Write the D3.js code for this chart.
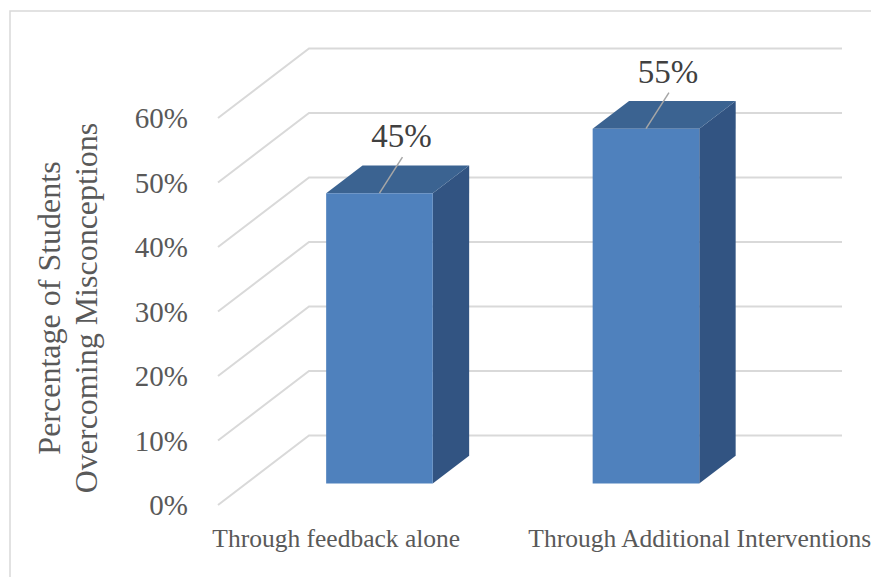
<!DOCTYPE html>
<html>
<head>
<meta charset="utf-8">
<script src="https://cdn.jsdelivr.net/npm/d3@7"></script>
<style>
  html, body { margin: 0; padding: 0; background: #ffffff; }
  svg { display: block; }
</style>
</head>
<body>
<script>
// Chart data
const categories = ["Through feedback alone", "Through Additional Interventions"];
const values = [0.45, 0.55];
const tickValues = [0, 0.1, 0.2, 0.3, 0.4, 0.5, 0.6];
const yTitleLines = ["Percentage of Students", "Overcoming Misconceptions"];

const W = 871, H = 577;
const svg = d3.select("body").append("svg").attr("width", W).attr("height", H);

// 3D layout: front floor edge and depth vector of the back wall
const floorFrontY = 505;
const wallX0 = 218, wallX1 = 751;
const DX = 91, DY = 69.5;
const backEndX = 842;

const y = d3.scaleLinear().domain([0, 0.6]).range([floorFrontY, floorFrontY - 387]);
const x = d3.scaleBand().domain(categories).range([wallX0, wallX1]).paddingInner(0).paddingOuter(0);

// Project a point (floor x, value, depth 0..1) to the screen
const proj = (px, v, d) => [px + d * DX, y(v) - d * DY];

// Outer frame
svg.append("rect")
  .attr("x", 10).attr("y", 11).attr("width", W + 20).attr("height", H + 20)
  .attr("fill", "none").attr("stroke", "#d9d9d9").attr("stroke-width", 1.5);

// Gridlines: side wall diagonal then back wall horizontal
const grid = svg.append("g").attr("fill", "none").attr("stroke", "#d9d9d9").attr("stroke-width", 2);
tickValues.forEach(v => {
  const a = proj(wallX0, v, 0), b = proj(wallX0, v, 1);
  grid.append("path").attr("d", `M${a[0]},${a[1]}L${b[0]},${b[1]}L${backEndX},${b[1]}`);
});

// Tick labels
const fmt = d3.format(".0%");
svg.append("g")
  .selectAll("text").data(tickValues).join("text")
  .attr("x", 188).attr("y", d => y(d) + 10)
  .attr("text-anchor", "end")
  .attr("font-family", "Liberation Serif, serif").attr("font-size", 29)
  .attr("fill", "#595959")
  .text(d => fmt(d));

// Axis title (rotated, two lines)
const titleG = svg.append("g").attr("transform", "translate(0,308) rotate(-90)");
titleG.selectAll("text").data(yTitleLines).join("text")
  .attr("x", 0).attr("y", (d, i) => 60 + i * 37)
  .attr("text-anchor", "middle")
  .attr("font-family", "Liberation Serif, serif").attr("font-size", 32)
  .attr("fill", "#595959")
  .text(d => d);

// Bars as boxes
const d0 = 0.31, d1 = 0.71;
const barFrac = 0.4;
const bars = svg.append("g");
categories.forEach((c, i) => {
  const v = values[i];
  const bw = x.bandwidth() * barFrac;
  const xl = x(c) + (x.bandwidth() - bw) / 2;
  const xr = xl + bw;
  const fBL = proj(xl, 0, d0), fBR = proj(xr, 0, d0), fTL = proj(xl, v, d0), fTR = proj(xr, v, d0);
  const bBR = proj(xr, 0, d1), bTL = proj(xl, v, d1), bTR = proj(xr, v, d1);
  const poly = pts => "M" + pts.map(p => p.join(",")).join("L") + "Z";
  // side
  bars.append("path").attr("d", poly([fBR, bBR, bTR, fTR])).attr("fill", "#325482");
  // top
  bars.append("path").attr("d", poly([fTL, fTR, bTR, bTL])).attr("fill", "#3b6391");
  // front
  bars.append("path").attr("d", poly([fBL, fBR, fTR, fTL])).attr("fill", "#4f81bd");

  // value label with leader line
  const cx = (xl + xr) / 2 + d0 * DX;
  const top = fTL[1];
  bars.append("line")
    .attr("x1", cx).attr("y1", top).attr("x2", cx + 23).attr("y2", top - 36)
    .attr("stroke", "#a6a6a6").attr("stroke-width", 1.5);
  bars.append("text")
    .attr("x", cx + 22).attr("y", top - 46)
    .attr("text-anchor", "middle")
    .attr("font-family", "Liberation Serif, serif").attr("font-size", 33)
    .attr("fill", "#404040")
    .text(fmt(v));
});

// Category labels
const labelShift = [-15, 82];
svg.append("g")
  .selectAll("text").data(categories).join("text")
  .attr("x", (d, i) => x(d) + x.bandwidth() / 2 + labelShift[i])
  .attr("y", 547)
  .attr("text-anchor", "middle")
  .attr("font-family", "Liberation Serif, serif").attr("font-size", 25.5)
  .attr("fill", "#595959")
  .text(d => d);
</script>
</body>
</html>
